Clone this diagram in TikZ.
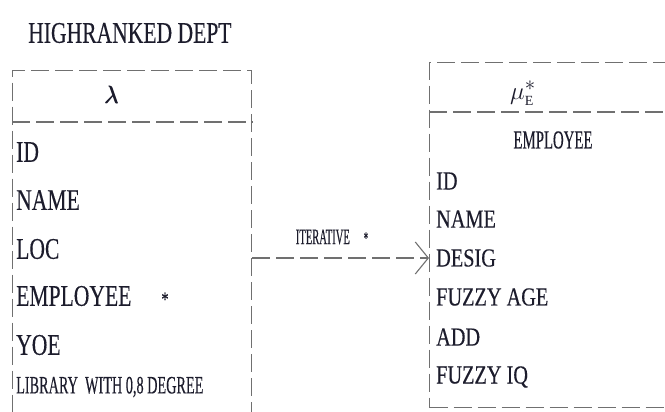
\documentclass[tikz,border=0pt]{standalone}
\usepackage{amsmath}
\usepackage{fontspec}
\setmainfont{Liberation Serif}
\newfontfamily\attrfont[FakeStretch=0.72, FakeBold=0.3]{Liberation Serif}
\newfontfamily\empfont[FakeStretch=0.78, FakeBold=0.3]{Liberation Serif}
\newfontfamily\narrowfont[FakeStretch=0.57, FakeBold=0.3]{Liberation Serif}
\newfontfamily\iterfont[FakeStretch=0.48, FakeBold=0.3]{Liberation Serif}
\usepackage{tikz}
\usetikzlibrary{arrows.meta, positioning}
\definecolor{linegray}{HTML}{707070}
\definecolor{inkblue}{HTML}{1C1C2C}
\tikzset{
    dashline/.style={draw=linegray, line width=1.1pt, dash pattern=on 18pt off 6pt},
    entbox/.style={dashline, rectangle, anchor=north west, inner sep=0pt},
    attr/.style={anchor=west, inner sep=0pt, text=inkblue, font=\attrfont\fontsize{30}{30}\selectfont},
    empattr/.style={anchor=west, inner sep=0pt, text=inkblue, font=\empfont\fontsize{26}{26}\selectfont},
    myarrow/.style={-{Straight Barb[length=13pt, width=32pt]}}
}

\begin{document}
\begin{tikzpicture}[x=1pt, y=-1pt]
    \useasboundingbox (0,0) rectangle (665,412);

    % title
    \node (title) [attr] at (28,33) {HIGHRANKED DEPT};

    % left entity
    \node (dept) [entbox, minimum width=239, minimum height=350] at (12,70) {};
    \draw [dashline] (dept.west |- 0,122) -- (dept.east |- 0,122);
    \node (lam) [inner sep=0pt, text=inkblue, font=\fontsize{30}{30}\selectfont] at (112,95) {$\pmb{\lambda}$};
    \node (d-id) [attr] at (16,152) {ID};
    \node (d-name) [attr] at (16,200) {NAME};
    \node (d-loc) [attr] at (16,249) {LOC};
    \node (d-emp) [attr] at (16,296) {EMPLOYEE\hspace{30pt}{\fontsize{20}{20}\selectfont*}};
    \node (d-yoe) [attr] at (16,345) {YOE};
    \node (d-lib) [attr, font=\narrowfont\fontsize{25}{25}\selectfont] at (16,387) {LIBRARY\ \ WITH 0,8 DEGREE};

    % right entity
    \node (emp) [entbox, minimum width=260, minimum height=345] at (429,62) {};
    \draw [dashline] (emp.west |- 0,112) -- (emp.east |- 0,112);
    \node (mu) [inner sep=0pt, text=inkblue, font=\fontsize{28}{28}\selectfont] at (523,93) {$\mu_{\scriptscriptstyle\mathrm{E}}^{*}$};
    \node (e-title) [inner sep=0pt, text=inkblue, font=\narrowfont\fontsize{26}{26}\selectfont] at (553,140) {EMPLOYEE};
    \node (e-id) [empattr] at (436,181) {ID};
    \node (e-name) [empattr] at (436,219) {NAME};
    \node (e-desig) [empattr] at (436,258) {DESIG};
    \node (e-age) [empattr] at (436,297) {FUZZY AGE};
    \node (e-add) [empattr] at (436,337) {ADD};
    \node (e-iq) [empattr] at (436,377) {FUZZY IQ};

    % link
    \draw [dashline, myarrow] (dept.east |- e-desig.west) -- (emp.west |- e-desig.west);
    \node (iter) [inner sep=0pt, text=inkblue, font=\iterfont\fontsize{22}{22}\selectfont] at (332,237) {ITERATIVE\hspace{14pt}{\fontsize{18}{18}\selectfont*}};
\end{tikzpicture}
\end{document}
